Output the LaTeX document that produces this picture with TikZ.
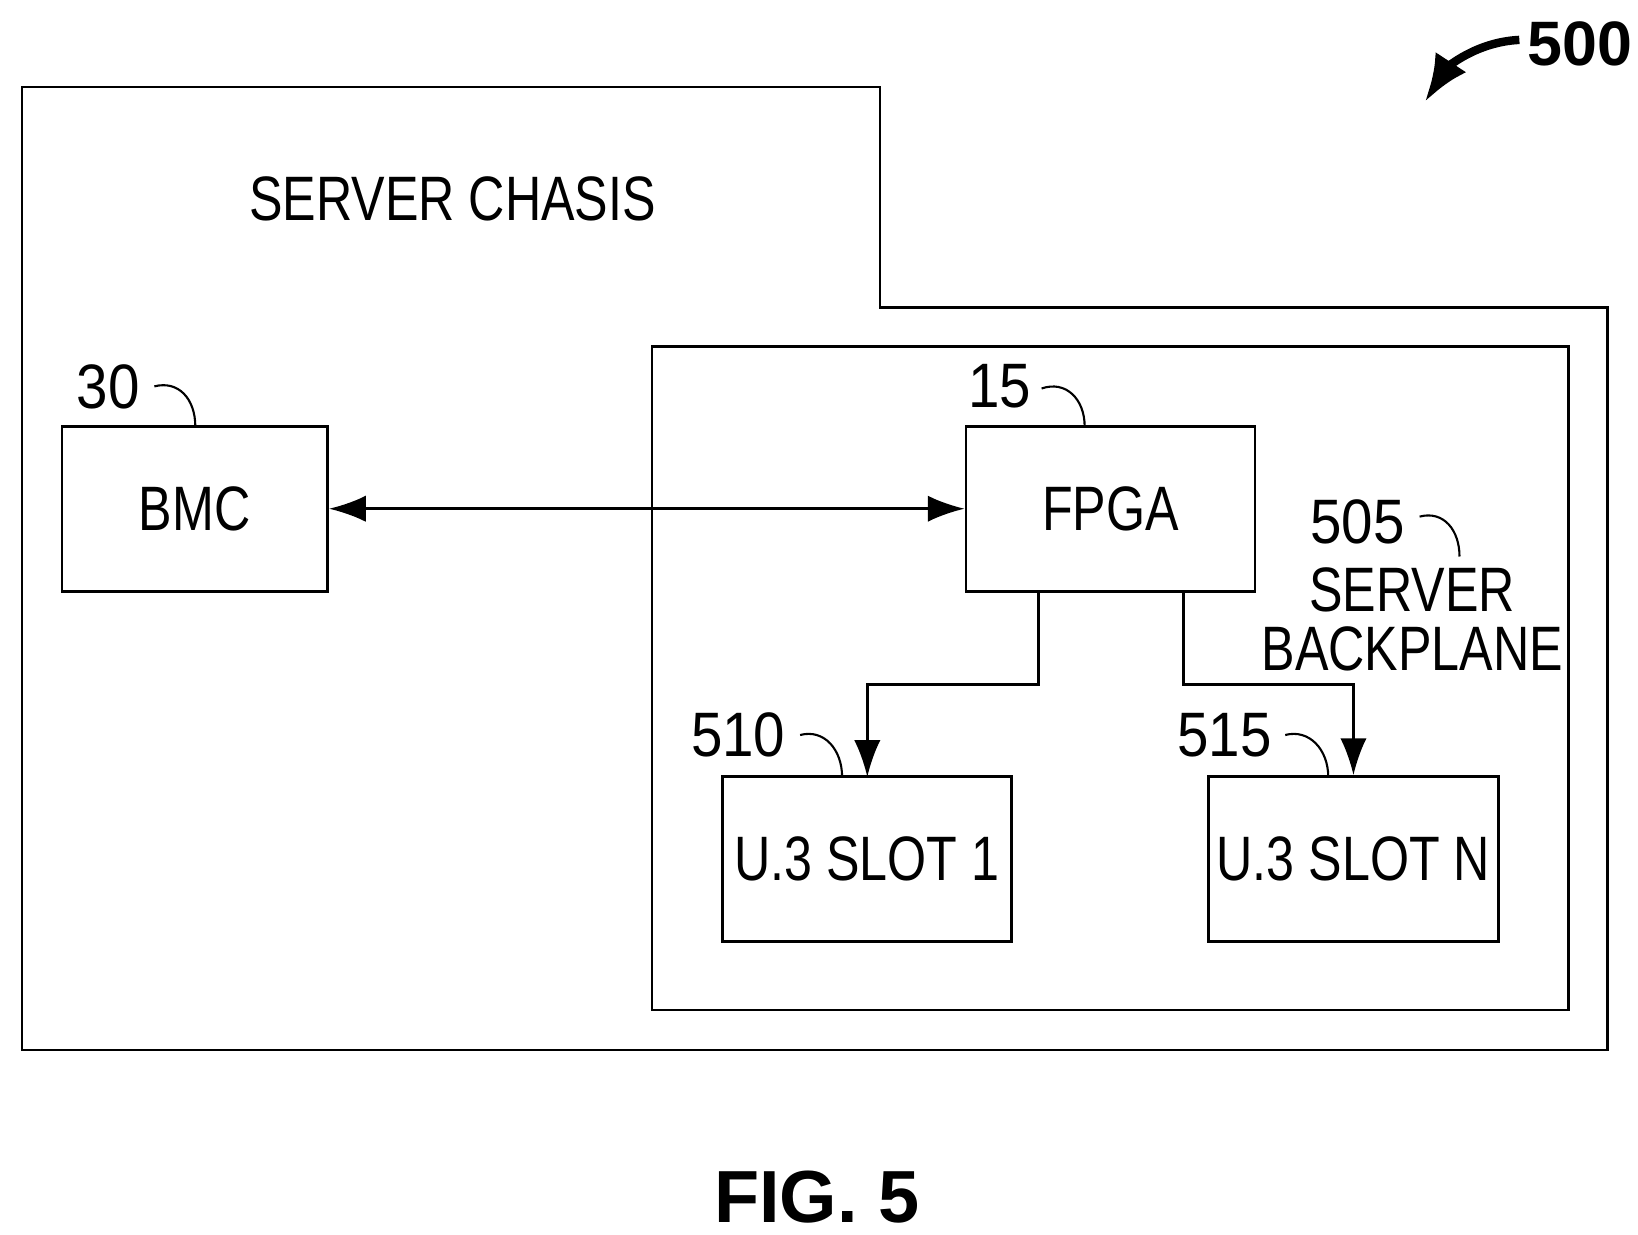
\documentclass[tikz,border=0pt]{standalone}
\usepackage{fontspec}
\setmainfont{Liberation Sans}
\usetikzlibrary{arrows.meta}
\tikzset{>={Latex[length=3.5mm,width=2.5mm]}}
\newcommand{\narrow}[1]{\scalebox{0.8}[1]{#1}}
\tikzstyle{boxline}=[draw=black,line width=0.25mm]
\tikzstyle{blk}=[boxline,minimum width=2.53cm,minimum height=1.57cm,inner sep=0pt,font=\fontsize{17}{19}\selectfont]
\tikzstyle{lbl}=[font=\fontsize{17}{19}\selectfont,inner sep=0pt]
\tikzstyle{leader}=[draw=black,line width=0.2mm]
\begin{document}
\begin{tikzpicture}[x=0.01cm,y=-0.01cm]
  \useasboundingbox (0,0) rectangle (1560,1176);
  % chassis outline
  \draw[boxline] (21,83) -- (838,83) -- (838,293) -- (1531,293) -- (1531,1000) -- (21,1000) -- cycle;
  \node[lbl] (chasis) at (431,189) {\narrow{SERVER CHASIS}};
  % backplane
  \draw[boxline] (621,330) rectangle (1494,962);
  \node[blk] (bmc) at (185.5,484.5) {\narrow{BMC}};
  \node[blk,minimum width=2.75cm] (fpga) at (1057.5,484.5) {\narrow{FPGA}};
  \node[blk,minimum width=2.75cm] (slot1) at (825.5,818) {\narrow{U.3 SLOT 1}};
  \node[blk,minimum width=2.76cm] (slotn) at (1289,818) {\narrow{U.3 SLOT N}};
  \draw[<->,line width=0.25mm] (bmc.east) -- (fpga.west);
  \draw[->,line width=0.25mm] (989,563) -- (989,652) -- (826,652) -- (826,740);
  \draw[->,line width=0.25mm] (1127,563) -- (1127,652) -- (1289,652) -- (slotn.north);
  % reference numerals
  \node[lbl] (n30) at (103,368) {\scalebox{0.9}[1]{30}};
  \draw[leader] (147,368) .. controls (170,362) and (186,380) .. (186,406);
  \node[lbl] (n15) at (952,368) {\scalebox{0.9}[1]{15}};
  \draw[leader] (992,370) .. controls (1015,362) and (1033,380) .. (1033,406);
  \node[lbl] (n505) at (1293,497) {\scalebox{0.9}[1]{505}};
  \draw[leader] (1352,492) .. controls (1375,486) and (1390,505) .. (1390,530);
  \node[lbl] (sb1) at (1345,562) {\narrow{SERVER}};
  \node[lbl] (sb2) at (1345,618) {\narrow{BACKPLANE}};
  \node[lbl] (n510) at (703,700) {\scalebox{0.9}[1]{510}};
  \draw[leader] (762,700) .. controls (785,694) and (802,714) .. (802,740);
  \node[lbl] (n515) at (1166,700) {\scalebox{0.9}[1]{515}};
  \draw[leader] (1224,700) .. controls (1247,694) and (1265,714) .. (1265,740);
  \node[font=\fontsize{17}{19}\selectfont\bfseries,inner sep=0pt] (n500) at (1505,42) {500};
  \draw[-{Latex[length=4.5mm,width=3.5mm]},line width=0.8mm] (1447,38) .. controls (1405,40) and (1378,65) .. (1357,97);
  \node[font=\fontsize{20}{22}\selectfont\bfseries,inner sep=0pt] (fig) at (778,1140) {FIG. 5};
\end{tikzpicture}
\end{document}
